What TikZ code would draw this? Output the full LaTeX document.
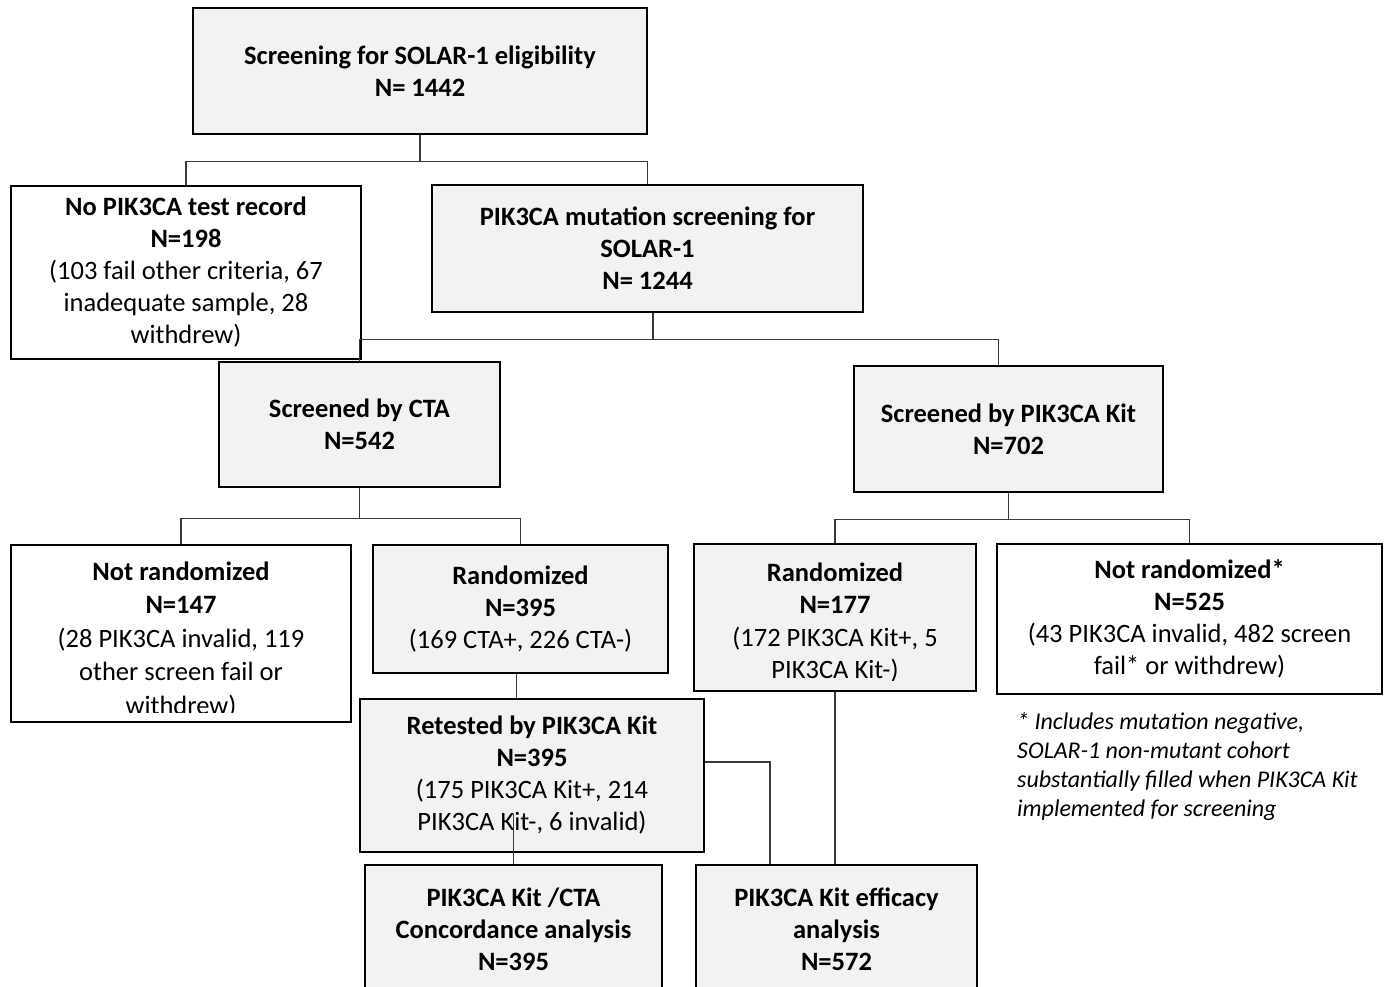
\documentclass[tikz,border=0pt]{standalone}
\usepackage{fontspec}
\setmainfont{Carlito}
\usepackage{xcolor}
\usepackage{tikz}
\usetikzlibrary{calc}

\definecolor{boxgray}{HTML}{F2F2F2}
\definecolor{linkgray}{HTML}{3A3A3A}

\begin{document}
\begin{tikzpicture}[
    x=1pt, y=-1pt,
    every node/.style={font=\fontsize{26.5}{32}\selectfont},
    graybox/.style={draw=black, line width=2.6pt, fill=boxgray, align=center, inner sep=0pt},
    whitebox/.style={draw=black, line width=2.6pt, fill=white, align=center, inner sep=0pt},
    boxtext/.style={align=center, inner sep=0pt},
    note/.style={align=left, inner sep=0pt, font=\fontsize{24}{29}\selectfont\itshape},
    link/.style={draw=linkgray, line width=1.2pt}
]
\useasboundingbox (0,0) rectangle (1387,987);

\node[graybox, minimum width=454, minimum height=126] (screen) at (420,71) {\textbf{Screening for SOLAR-1 eligibility}\\\textbf{N= 1442}};

\node[whitebox, minimum width=350, minimum height=173] (notest) at (186,272.5) {\textbf{No PIK3CA test record}\\\textbf{N=198}\\(103 fail other criteria, 67\\inadequate sample, 28\\withdrew)};
\node[graybox, minimum width=431, minimum height=127] (mutscreen) at (647.5,248.5) {\textbf{PIK3CA mutation screening for}\\\textbf{SOLAR-1}\\\textbf{N= 1244}};

\node[graybox, minimum width=281, minimum height=125] (cta) at (359.5,424.5) {\textbf{Screened by CTA}\\\textbf{N=542}};
\node[graybox, minimum width=309, minimum height=126] (kit) at (1008.5,429) {\textbf{Screened by PIK3CA Kit}\\\textbf{N=702}};

\node[whitebox, minimum width=340, minimum height=177] (notrand147) at (181,633.5) {};
\begin{scope}
  \clip ([yshift=11pt]notrand147.south west) rectangle (notrand147.north east);
  \node[boxtext, font=\fontsize{26.5}{33.5}\selectfont] (notrand147txt) at ([yshift=-6.5pt]notrand147.center) {\textbf{Not randomized}\\\textbf{N=147}\\(28 PIK3CA invalid, 119\\other screen fail or\\withdrew)};
\end{scope}
\node[graybox, minimum width=295, minimum height=128] (rand395) at (520.5,609) {\textbf{Randomized}\\\textbf{N=395}\\(169 CTA+, 226 CTA-)};
\node[graybox, minimum width=282, minimum height=147] (rand177) at (835,617.5) {};
\begin{scope}
  \clip ([yshift=12pt]rand177.south west) rectangle (rand177.north east);
  \node[boxtext, font=\fontsize{26.5}{32.5}\selectfont] (rand177txt) at ([yshift=-5pt]rand177.center) {\textbf{Randomized}\\\textbf{N=177}\\(172 PIK3CA Kit+, 5\\PIK3CA Kit-)};
\end{scope}
\node[whitebox, minimum width=385, minimum height=150] (notrand525) at (1189.5,619) {\textbf{Not randomized*}\\\textbf{N=525}\\(43 PIK3CA invalid, 482 screen\\fail* or withdrew)};

\node[note, anchor=north west] (footnote) at (1017,712) {* Includes mutation negative,\\SOLAR-1 non-mutant cohort\\substantially filled when PIK3CA Kit\\implemented for screening};

\node[graybox, minimum width=344, minimum height=153] (retest) at (532,775.5) {\textbf{Retested by PIK3CA Kit}\\\textbf{N=395}\\(175 PIK3CA Kit+, 214\\PIK3CA Kit-, 6 invalid)};

\node[graybox, minimum width=297, minimum height=128] (concord) at (513.5,929) {\textbf{PIK3CA Kit /CTA}\\\textbf{Concordance analysis}\\\textbf{N=395}};
\node[graybox, minimum width=281, minimum height=128] (efficacy) at (836.5,929) {\textbf{PIK3CA Kit efficacy}\\\textbf{analysis}\\\textbf{N=572}};

\draw[link] (screen.south) -- ++(0,26) -| (notest.north);
\draw[link] (screen.south) -- ++(0,26) -| (mutscreen.north);
\draw[link] ([xshift=5.5pt]mutscreen.south) -- ++(0,26) -| (cta.north);
\draw[link] ([xshift=5.5pt]mutscreen.south) -- ++(0,26) -| ([xshift=-10pt]kit.north);
\draw[link] (cta.south) -- ++(0,30) -| (notrand147.north);
\draw[link] (cta.south) -- ++(0,30) -| (rand395.north);
\draw[link] (kit.south) -- ++(0,26) -| (rand177.north);
\draw[link] (kit.south) -- ++(0,26) -| (notrand525.north);
\draw[link] ([xshift=-4pt]rand395.south) -- ([xshift=-4pt]rand395.south |- retest.north);
\draw[link] (concord.north) -- ++(0,-50);
\draw[link] ([yshift=13.5pt]retest.east) -| ([xshift=-66.5pt]efficacy.north);
\draw[link] (rand177.south) -- (rand177.south |- efficacy.north);

\end{tikzpicture}
\end{document}
